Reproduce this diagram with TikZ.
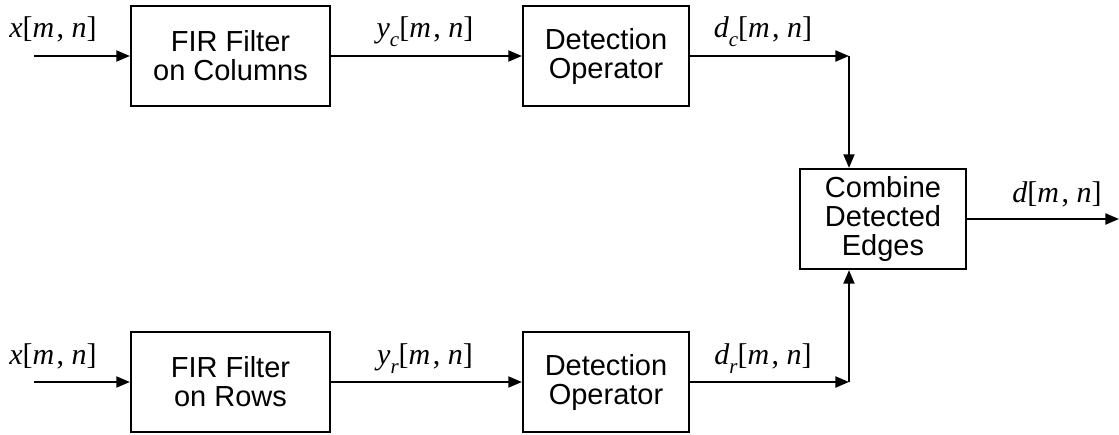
\documentclass[tikz,border=0pt]{standalone}
\usepackage{fontspec}
\setmainfont{Liberation Sans}
\newfontfamily\serifm{Liberation Serif}
\usetikzlibrary{arrows.meta}
\newcommand\iv[1]{{\itshape #1}}
\newcommand\subl[1]{\raisebox{-0.3em}{\fontsize{10.5}{10.5}\selectfont\itshape #1}}
\newcommand\sigarg{[\iv{m}\kern0.08em,\kern0.25em\iv{n}]}
\begin{document}
\begin{tikzpicture}[x=0.5pt,y=-0.5pt,
  blk/.style={draw, line width=1.1pt, minimum height=50pt, align=center, inner sep=0pt,
    font=\fontsize{14.5}{14.5}\selectfont},
  arr/.style={line width=1pt, -{Triangle[length=6.8pt,width=5.5pt]}},
  lab/.style={anchor=base, inner sep=0pt, font=\fontsize{15}{15}\selectfont\serifm}]
\useasboundingbox (0,0) rectangle (1119,434);
% top row
\node[blk, minimum width=99.5pt] (fir1) at (230.5,56) {FIR Filter\\on Columns};
\node[blk, minimum width=83pt] (det1) at (606,56) {Detection\\Operator};
% bottom row
\node[blk, minimum width=99.5pt] (fir2) at (230.5,382) {FIR Filter\\on Rows};
\node[blk, minimum width=83pt] (det2) at (606,382) {Detection\\Operator};
% combine
\node[blk, minimum width=83pt] (comb) at (883,219) {Combine\\Detected\\Edges};
% free ends
\coordinate (in1) at (34,56);
\coordinate (in2) at (34,382);
\coordinate (j1) at (849,56);
\coordinate (j2) at (849,382);
\coordinate (out) at (1119,219);
% connectors
\draw[arr] (in1) -- (fir1.west);
\draw[arr] (fir1.east) -- (det1.west);
\draw[arr] (det1.east) -- (j1);
\draw[arr] (j1) -- (j1 |- comb.north);
\draw[arr] (in2) -- (fir2.west);
\draw[arr] (fir2.east) -- (det2.west);
\draw[arr] (det2.east) -- (j2);
\draw[arr] (j2) -- (j2 |- comb.south);
\draw[arr] (comb.east) -- (out);
% labels
\node[lab] (lx1) at (53,37) {\iv{x}\sigarg};
\node[lab] (lyc) at (425,37) {\iv{y}\subl{c}\sigarg};
\node[lab] (ldc) at (763,37) {\iv{d}\subl{c}\sigarg};
\node[lab] (lx2) at (53,364) {\iv{x}\sigarg};
\node[lab] (lyr) at (425,364) {\iv{y}\subl{r}\sigarg};
\node[lab] (ldr) at (763,364) {\iv{d}\subl{r}\sigarg};
\node[lab] (ld) at (1057,202) {\iv{d}\sigarg};
\end{tikzpicture}
\end{document}
